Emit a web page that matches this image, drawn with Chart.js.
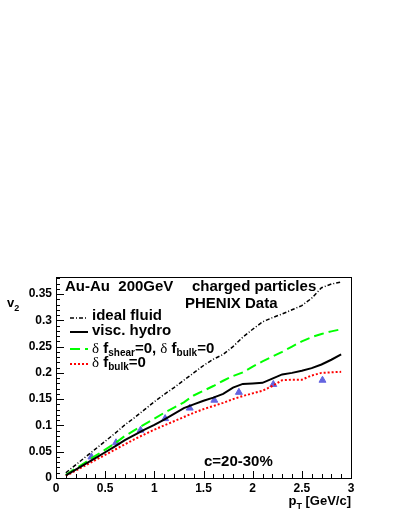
<!DOCTYPE html>
<html><head><meta charset="utf-8">
<script src="https://cdn.jsdelivr.net/npm/chart.js@4"></script>
<style>html,body{margin:0;padding:0;background:#fff;}#wrap{width:399px;height:516px;position:relative;}</style>
</head><body><div id="wrap"><canvas id="c" width="399" height="516"></canvas></div>
<script>
const pT = [0.1,0.2,0.3,0.4,0.5,0.6,0.7,0.8,0.9,1.0,1.1,1.2,1.3,1.4,1.5,1.6,1.7,1.8,1.9,2.0,2.1,2.2,2.3,2.4,2.5,2.6,2.7,2.8,2.9];
const idealFluid = [0.010,0.025,0.040,0.055,0.070,0.085,0.101,0.115,0.130,0.145,0.159,0.172,0.186,0.200,0.214,0.226,0.235,0.250,0.268,0.283,0.297,0.305,0.312,0.320,0.328,0.342,0.362,0.369,0.373];
const viscHydro = [0.005,0.016,0.027,0.038,0.049,0.060,0.072,0.082,0.092,0.101,0.111,0.122,0.133,0.140,0.147,0.153,0.160,0.172,0.179,0.180,0.181,0.189,0.197,0.200,0.204,0.209,0.216,0.225,0.235];
const noShearNoBulk = [0.006,0.018,0.030,0.042,0.054,0.066,0.080,0.091,0.102,0.113,0.124,0.134,0.144,0.157,0.166,0.175,0.185,0.194,0.201,0.212,0.222,0.231,0.240,0.250,0.260,0.268,0.274,0.279,0.283];
const noBulk = [0.004,0.014,0.024,0.034,0.044,0.054,0.064,0.074,0.083,0.092,0.100,0.108,0.116,0.124,0.131,0.137,0.143,0.150,0.156,0.161,0.166,0.175,0.186,0.187,0.187,0.195,0.200,0.201,0.202];
const phenixPT = [0.36,0.61,0.86,1.11,1.36,1.61,1.86,2.21,2.71];
const phenixV2 = [0.040,0.067,0.091,0.113,0.133,0.148,0.163,0.178,0.186];
const xTicks = [0,0.5,1,1.5,2,2.5,3];
const yTicks = [0,0.05,0.1,0.15,0.2,0.25,0.3,0.35];

const pts = (xs, ys) => xs.map((x, i) => ({x: x, y: ys[i]}));
const FONT = '"Liberation Sans", Arial, sans-serif';
const SERIF = '"Liberation Serif", "Times New Roman", serif';

const styles = {
  ideal: {color:'#000000', width:1.5, dash:[4,2,1,2]},
  visc: {color:'#000000', width:2, dash:[]},
  green: {color:'#00ff00', width:2, dash:[10,5]},
  red: {color:'#ff0000', width:2, dash:[2,2]}
};

function rich(ctx, x, y, parts) {
  let cx = x;
  for (const p of parts) {
    ctx.font = p.f;
    ctx.fillText(p.t, cx, y + (p.dy || 0));
    cx += ctx.measureText(p.t).width;
  }
  return cx;
}
function richWidth(ctx, parts) {
  let w = 0;
  for (const p of parts) { ctx.font = p.f; w += ctx.measureText(p.t).width; }
  return w;
}

const decor = {
  id: 'decor',
  afterDraw(chart) {
    const ctx = chart.ctx, a = chart.chartArea;
    const xs = chart.scales.x, ys = chart.scales.y;
    ctx.save();
    // frame
    ctx.strokeStyle = '#000'; ctx.lineWidth = 1; ctx.setLineDash([]);
    ctx.strokeRect(Math.round(a.left)+0.5, Math.round(a.top)+0.5, Math.round(a.right-a.left), Math.round(a.bottom-a.top));
    // x ticks (inward)
    ctx.beginPath();
    for (let i = 0; i <= 30; i++) {
      const v = i/10;
      const px = Math.round(xs.getPixelForValue(v)) + 0.5;
      const len = (i % 5 === 0) ? 7 : 4;
      ctx.moveTo(px, a.bottom); ctx.lineTo(px, a.bottom - len);
    }
    // y ticks
    for (let i = 0; i <= 38; i++) {
      const v = i/100;
      const py = Math.round(ys.getPixelForValue(v)) + 0.5;
      const len = (i % 5 === 0) ? 8 : 4;
      ctx.moveTo(a.left, py); ctx.lineTo(a.left + len, py);
    }
    ctx.stroke();
    // texts
    ctx.fillStyle = '#000';
    ctx.textBaseline = 'alphabetic';
    ctx.textAlign = 'left';
    const B15 = 'bold 15px ' + FONT, B10 = 'bold 10px ' + FONT, S15 = '15px ' + SERIF;
    rich(ctx, 65, 291, [{t:'Au-Au  200GeV', f:B15}]);
    rich(ctx, 192, 291, [{t:'charged particles', f:B15}]);
    rich(ctx, 185, 308, [{t:'PHENIX Data', f:B15}]);
    rich(ctx, 204, 466, [{t:'c=20-30%', f:B15}]);
    // legend
    const leg = [
      {s: styles.ideal, y: 318, by: 320, parts: [{t:'ideal fluid', f:B15}]},
      {s: styles.visc, y: 332, by: 335, parts: [{t:'visc. hydro', f:B15}]},
      {s: styles.green, y: 349, by: 353, parts: [{t:'\u03b4', f:S15},{t:' f', f:B15},{t:'shear', f:B10, dy:3},{t:'=0, ', f:B15},{t:'\u03b4', f:S15},{t:' f', f:B15},{t:'bulk', f:B10, dy:3},{t:'=0', f:B15}]},
      {s: styles.red, y: 364, by: 367, parts: [{t:'\u03b4', f:S15},{t:' f', f:B15},{t:'bulk', f:B10, dy:3},{t:'=0', f:B15}]}
    ];
    for (const L of leg) {
      ctx.strokeStyle = L.s.color; ctx.lineWidth = L.s.width; ctx.setLineDash(L.s.dash);
      ctx.beginPath(); ctx.moveTo(70, L.y); ctx.lineTo(88, L.y); ctx.stroke();
      ctx.setLineDash([]);
      rich(ctx, 92, L.by, L.parts);
    }
    // axis titles
    rich(ctx, 7, 307, [{t:'v', f:'bold 13px ' + FONT},{t:'2', f:'bold 9px ' + FONT, dy:4}]);
    const xt = [{t:'p', f:'bold 13px ' + FONT},{t:'T', f:'bold 9px ' + FONT, dy:4},{t:' [GeV/c]', f:'bold 13px ' + FONT}];
    rich(ctx, 351 - richWidth(ctx, xt), 505, xt);
    ctx.restore();
  }
};

const lineDs = (label, data, s) => ({
  label, data: pts(pT, data), showLine: true, pointRadius: 0,
  borderColor: s.color, borderWidth: s.width, borderDash: s.dash, fill: false, tension: 0
});

new Chart(document.getElementById('c'), {
  type: 'scatter',
  data: {
    datasets: [
      lineDs('ideal fluid', idealFluid, styles.ideal),
      lineDs('visc. hydro', viscHydro, styles.visc),
      lineDs('δf_shear=0, δf_bulk=0', noShearNoBulk, styles.green),
      lineDs('δf_bulk=0', noBulk, styles.red),
      {label:'PHENIX Data', data: pts(phenixPT, phenixV2), showLine:false, pointStyle:'triangle',
       pointRadius:4, backgroundColor:'#6464e0', borderColor:'#6464e0', borderWidth:1}
    ]
  },
  options: {
    responsive: false, animation: false, devicePixelRatio: 1,
    layout: {padding: {top: 277, right: 48, left: 0, bottom: 0}},
    plugins: {legend: {display:false}, tooltip: {enabled:false}, title:{display:false}},
    scales: {
      x: {
        type: 'linear', min: 0, max: 3,
        grid: {display:false, drawTicks:false}, border: {display:false},
        afterBuildTicks: s => { s.ticks = xTicks.map(v => ({value:v})); },
        afterFit: s => { s.height = 38; },
        ticks: {color:'#000', padding:3, maxRotation:0, font:{family:FONT, size:12, weight:'bold'},
                callback: v => String(+v.toFixed(2))}
      },
      y: {
        type: 'linear', min: 0, max: 0.3824,
        grid: {display:false, drawTicks:false}, border: {display:false},
        afterBuildTicks: s => { s.ticks = yTicks.map(v => ({value:v})); },
        afterFit: s => { s.width = 56; },
        ticks: {color:'#000', padding:4, font:{family:FONT, size:12, weight:'bold'},
                callback: v => String(+v.toFixed(2))}
      }
    }
  },
  plugins: [decor, {id:'bg', beforeDraw(c){const x=c.ctx;x.save();x.fillStyle='#fff';x.fillRect(0,0,c.width,c.height);x.restore();}}]
});
</script>
</body></html>
